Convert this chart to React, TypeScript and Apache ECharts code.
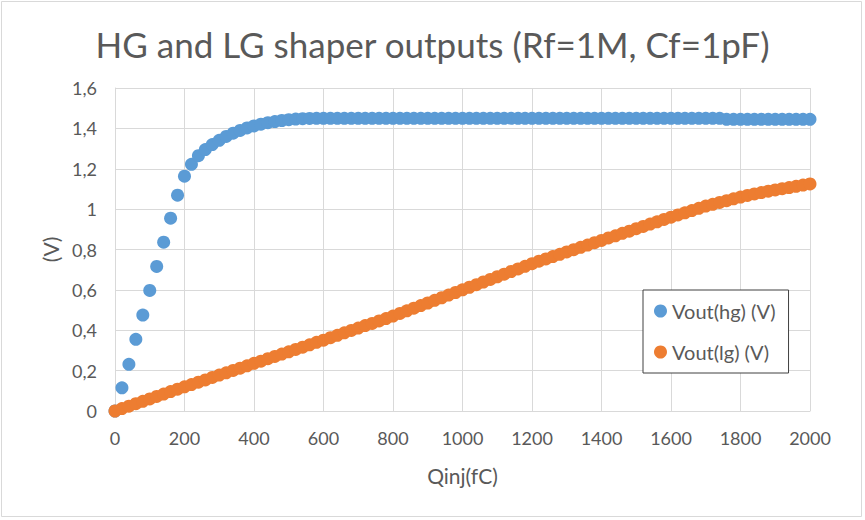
import React, { useEffect, useRef } from "react";
import * as echarts from "echarts";

const titleText = "HG and LG shaper outputs (Rf=1M, Cf=1pF)";
const xAxisName = "Qinj(fC)";
const yAxisName = "(V)";
const seriesNames = ["Vout(hg) (V)", "Vout(lg) (V)"];

// Qinj values in fC, one sample every 20 fC from 0 to 2000
const qinj: number[] = [
  0, 20, 40, 60, 80, 100, 120, 140, 160, 180,
  200, 220, 240, 260, 280, 300, 320, 340, 360, 380,
  400, 420, 440, 460, 480, 500, 520, 540, 560, 580,
  600, 620, 640, 660, 680, 700, 720, 740, 760, 780,
  800, 820, 840, 860, 880, 900, 920, 940, 960, 980,
  1000, 1020, 1040, 1060, 1080, 1100, 1120, 1140, 1160, 1180,
  1200, 1220, 1240, 1260, 1280, 1300, 1320, 1340, 1360, 1380,
  1400, 1420, 1440, 1460, 1480, 1500, 1520, 1540, 1560, 1580,
  1600, 1620, 1640, 1660, 1680, 1700, 1720, 1740, 1760, 1780,
  1800, 1820, 1840, 1860, 1880, 1900, 1920, 1940, 1960, 1980,
  2000,
];

// Vout(hg) in V
const voutHg: number[] = [
  0, 0.115, 0.231, 0.355, 0.475, 0.597, 0.716, 0.836, 0.955, 1.069,
  1.163, 1.222, 1.265, 1.295, 1.32, 1.341, 1.36, 1.376, 1.39, 1.402,
  1.412, 1.421, 1.428, 1.434, 1.439, 1.443, 1.446, 1.448, 1.449, 1.45,
  1.45, 1.45, 1.45, 1.45, 1.45, 1.45, 1.45, 1.45, 1.45, 1.45,
  1.45, 1.45, 1.45, 1.45, 1.45, 1.45, 1.45, 1.45, 1.45, 1.45,
  1.45, 1.45, 1.45, 1.45, 1.45, 1.45, 1.45, 1.45, 1.45, 1.45,
  1.45, 1.45, 1.45, 1.45, 1.45, 1.45, 1.45, 1.45, 1.45, 1.45,
  1.45, 1.45, 1.45, 1.45, 1.45, 1.45, 1.45, 1.45, 1.45, 1.45,
  1.45, 1.45, 1.45, 1.45, 1.45, 1.45, 1.45, 1.45, 1.445, 1.445,
  1.445, 1.445, 1.445, 1.445, 1.445, 1.445, 1.445, 1.445, 1.445, 1.445,
  1.445,
];

// Vout(lg) in V
const voutLg: number[] = [
  0, 0.012, 0.024, 0.036, 0.048, 0.06, 0.072, 0.084, 0.096, 0.108,
  0.12, 0.131, 0.143, 0.154, 0.166, 0.178, 0.189, 0.201, 0.212, 0.224,
  0.236, 0.247, 0.259, 0.27, 0.282, 0.293, 0.305, 0.316, 0.328, 0.34,
  0.351, 0.363, 0.375, 0.387, 0.399, 0.411, 0.423, 0.434, 0.446, 0.458,
  0.47, 0.483, 0.496, 0.509, 0.522, 0.535, 0.548, 0.561, 0.574, 0.587,
  0.6, 0.613, 0.626, 0.639, 0.652, 0.665, 0.678, 0.691, 0.704, 0.717,
  0.73, 0.742, 0.753, 0.765, 0.776, 0.788, 0.799, 0.811, 0.822, 0.834,
  0.845, 0.857, 0.868, 0.88, 0.891, 0.903, 0.914, 0.926, 0.937, 0.949,
  0.96, 0.971, 0.982, 0.993, 1.004, 1.015, 1.024, 1.033, 1.042, 1.051,
  1.06, 1.068, 1.075, 1.082, 1.089, 1.095, 1.101, 1.107, 1.113, 1.119,
  1.125,
];

const FONT = "Lato, 'Open Sans', sans-serif";
const TEXT = "#595959";
const GRID = "#d9d9d9";

export default function App() {
  const ref = useRef<HTMLDivElement>(null);

  useEffect(() => {
    if (!ref.current) return;
    const chart = echarts.init(ref.current, null, { renderer: "svg" });
    const hg = qinj.map((q, i) => [q, voutHg[i]]);
    const lg = qinj.map((q, i) => [q, voutLg[i]]);
    chart.setOption({
      animation: false,
      backgroundColor: "#ffffff",
      textStyle: { fontFamily: FONT },
      title: {
        text: titleText,
        left: "center",
        top: 21,
        textStyle: { fontFamily: FONT, fontSize: 35, fontWeight: "normal", color: TEXT },
      },
      graphic: [
        {
          type: "rect",
          shape: { x: 1.5, y: 1.5, width: 860, height: 515 },
          style: { fill: "none", stroke: GRID, lineWidth: 1 },
          silent: true,
        },
      ],
      grid: { left: 115, right: 55, top: 88, bottom: 109, containLabel: false },
      xAxis: {
        type: "value",
        min: 0,
        max: 2000,
        interval: 200,
        name: xAxisName,
        nameLocation: "middle",
        nameGap: 54,
        nameTextStyle: { fontFamily: FONT, fontSize: 21, color: TEXT },
        axisLine: { show: true, lineStyle: { color: GRID, width: 1 } },
        axisTick: { show: false },
        axisLabel: {
          fontFamily: FONT,
          fontSize: 18,
          color: TEXT,
          margin: 18,
          formatter: (v: number) => String(Math.round(v)),
        },
        splitLine: { show: true, lineStyle: { color: GRID, width: 1 } },
      },
      yAxis: {
        type: "value",
        min: 0,
        max: 1.6,
        interval: 0.2,
        name: yAxisName,
        nameLocation: "middle",
        nameRotate: 90,
        nameGap: 52,
        nameTextStyle: { fontFamily: FONT, fontSize: 21, color: TEXT },
        axisLine: { show: true, lineStyle: { color: GRID, width: 1 } },
        axisTick: { show: false },
        axisLabel: {
          fontFamily: FONT,
          fontSize: 18,
          color: TEXT,
          margin: 18,
          formatter: (v: number) => String(Number(v.toFixed(1))).replace(".", ","),
        },
        splitLine: { show: true, lineStyle: { color: GRID, width: 1 } },
      },
      legend: {
        orient: "vertical",
        left: 643,
        top: 290,
        padding: [11, 13, 11, 11],
        itemGap: 21,
        itemWidth: 13,
        itemHeight: 13,
        icon: "circle",
        borderColor: "#404040",
        borderWidth: 1,
        backgroundColor: "#ffffff",
        textStyle: { fontFamily: FONT, fontSize: 20, color: TEXT },
        data: seriesNames,
      },
      series: [
        {
          name: seriesNames[0],
          type: "scatter",
          data: hg,
          symbol: "circle",
          symbolSize: 13,
          itemStyle: { color: "#5B9BD5", opacity: 1 },
          z: 2,
        },
        {
          name: seriesNames[1],
          type: "scatter",
          data: lg,
          symbol: "circle",
          symbolSize: 13,
          itemStyle: { color: "#ED7D31", opacity: 1 },
          z: 3,
        },
      ],
    });
    return () => chart.dispose();
  }, []);

  return (
    <div
      ref={ref}
      style={{ position: "fixed", left: 0, top: 0, width: 865, height: 520 }}
    />
  );
}
